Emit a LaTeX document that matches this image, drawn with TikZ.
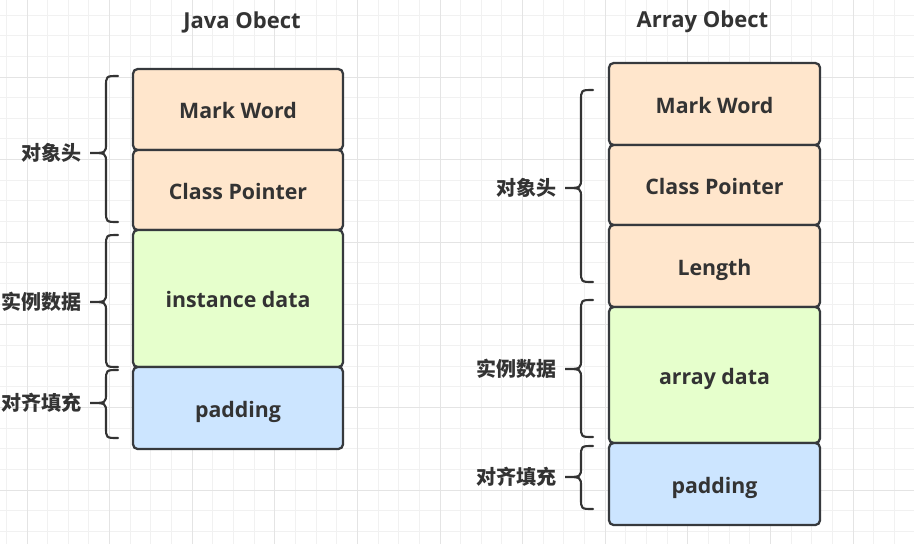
\documentclass[tikz,border=0pt]{standalone}
\usepackage{fontspec}
\setmainfont{Open Sans}
\newfontfamily\cjk{Noto Sans CJK SC}
\usepackage{tikz}

\definecolor{hdrfill}{HTML}{FFE6CC}
\definecolor{datafill}{HTML}{E6FFCC}
\definecolor{padfill}{HTML}{CCE5FF}
\definecolor{edge}{HTML}{36393D}
\definecolor{ink}{HTML}{333333}
\definecolor{gridlo}{HTML}{F1F1F1}
\definecolor{gridhi}{HTML}{E4E4E4}

\tikzset{
  cell/.style={draw=edge, line width=1.7pt, rounded corners=3.5pt, inner sep=0pt,
    text=ink, font=\fontsize{16}{19}\selectfont\bfseries, text height=13.5pt, text depth=0pt},
  jcell/.style={cell, minimum width=157.5pt},
  acell/.style={cell, minimum width=158.25pt},
  title/.style={text=ink, font=\fontsize{16.5}{19}\selectfont\bfseries},
  sidelabel/.style={anchor=east, inner sep=0pt, text=ink, font=\cjk\fontsize{15}{18}\selectfont\bfseries},
  bracepen/.style={draw=ink, line width=1.6pt, line cap=round},
}

\begin{document}
\begin{tikzpicture}[x=0.75pt, y=-0.75pt]
                \useasboundingbox[fill=white] (0,0) rectangle (914,544);
                % grid
                \foreach \i in {0,...,44}
                    \draw[gridlo, line width=0.75pt] ({6.35+20.65*\i},0) -- ++(0,544);
                \foreach \i in {0,...,26}
                    \draw[gridlo, line width=0.75pt] (0,{15.05+20.65*\i}) -- ++(914,0);
                \foreach \i in {0,...,10}
                    \draw[gridhi, line width=0.75pt] ({27+82.6*\i},0) -- ++(0,544);
                \foreach \i in {0,...,5}
                    \draw[gridhi, line width=0.75pt] (0,{77+82.6*\i}) -- ++(914,0);

                % Java object
                \node[title] (jtitle) at (242,22) {Java Obect};
                \node[jcell, fill=hdrfill, minimum height=60.75pt] (jmark) at (238,109.5) {Mark Word};
                \node[jcell, fill=hdrfill, minimum height=60pt] (jclass) at (238,190) {Class Pointer};
                \node[jcell, fill=datafill, minimum height=102.75pt] (jdata) at (238,298.5) {instance data};
                \node[jcell, fill=padfill, minimum height=61.5pt] (jpad) at (238,408) {padding};

                % Array object
                \node[title] (atitle) at (702.5,22) {Array Obect};
                \node[acell, fill=hdrfill, minimum height=61.5pt] (amark) at (714.5,104) {Mark Word};
                \node[acell, fill=hdrfill, minimum height=60pt] (aclass) at (714.5,185) {Class Pointer};
                \node[acell, fill=hdrfill, minimum height=61.5pt] (alen) at (714.5,266) {Length};
                \node[acell, fill=datafill, minimum height=102pt] (adata) at (714.5,375) {array data};
                \node[acell, fill=padfill, minimum height=61.5pt] (apad) at (714.5,484) {padding};

                % braces
                \foreach \xe/\t/\m/\b/\txt/\nm in {118/76/153/222/对象头/jhead,
                        118/235/302/367/实例数据/jbody, 118/370/403/438/对齐填充/jfill,
                        593/90/188/282/对象头/ahead, 593/300/369/437/实例数据/abody,
                        593/446/477/509/对齐填充/afill} {
                    \node[sidelabel] (\nm) at (\xe-36,\m) {\txt};
                    \draw[bracepen] (\xe,\t) .. controls (\xe-12,\t) .. (\xe-12,\t+11)
                        -- (\xe-12,\m-10) .. controls (\xe-12,\m) .. (\xe-28,\m)
                        .. controls (\xe-12,\m) .. (\xe-12,\m+10)
                        -- (\xe-12,\b-11) .. controls (\xe-12,\b) .. (\xe,\b);
                }
            \end{tikzpicture}
\end{document}
